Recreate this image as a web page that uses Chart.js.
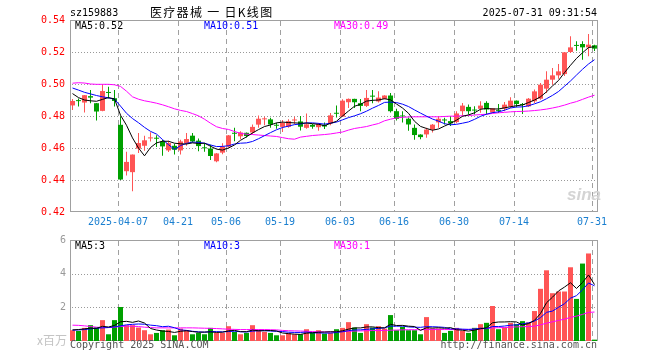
<!DOCTYPE html>
<html><head><meta charset="utf-8">
<script src="https://cdn.jsdelivr.net/npm/chart.js@4/dist/chart.umd.min.js"></script>
<style>
html,body{margin:0;padding:0;background:#fff;width:660px;height:360px;overflow:hidden;}
#wrap{position:relative;width:660px;height:360px;font-family:"DejaVu Sans Mono","Liberation Mono",monospace;font-size:10px;}
.t{position:absolute;white-space:pre;line-height:12px;}
#c1{position:absolute;left:0;top:0;}
#c2{position:absolute;left:0;top:230px;}
</style></head>
<body><div id="wrap">
<canvas id="c1" width="660" height="236"></canvas>
<canvas id="c2" width="660" height="130"></canvas>
<div class="t" style="left:70px;top:7px;color:#000;">sz159883</div>
<div class="t" style="left:150px;top:5px;font-family:'Noto Sans CJK SC';font-size:12px;line-height:14px;letter-spacing:1.3px;color:#000;">医疗器械 一 日K线图</div>
<div class="t" style="right:63px;top:7px;color:#000;">2025-07-31 09:31:54</div>
<div class="t" style="left:75px;top:20px;color:#000;">MA5:0.52</div>
<div class="t" style="left:204px;top:20px;color:#0000ff;">MA10:0.51</div>
<div class="t" style="left:334px;top:20px;color:#ff00ff;">MA30:0.49</div>
<div class="t" style="left:75px;top:240px;color:#000;">MA5:3</div>
<div class="t" style="left:204px;top:240px;color:#0000ff;">MA10:3</div>
<div class="t" style="left:334px;top:240px;color:#ff00ff;">MA30:1</div>
<div class="t" style="left:37px;top:333px;font-family:'Noto Sans CJK SC';font-size:12px;line-height:14px;color:#c4c4c4;">x百万</div>
<div class="t" style="left:70px;top:339px;color:#555;">Copyright 2025 SINA.COM</div>
<div class="t" style="right:63px;top:339px;color:#555;">http://finance.sina.com.cn</div>
<div class="t" style="left:567px;top:186px;font-family:'Liberation Sans';font-style:italic;font-weight:bold;font-size:17px;line-height:18px;color:#d4d4d4;">sina</div>
</div>
<script>
// ---------- data ----------
const dates = [
'2025-03-25','2025-03-26','2025-03-27','2025-03-28','2025-03-31','2025-04-01','2025-04-02','2025-04-03','2025-04-07','2025-04-08',
'2025-04-09','2025-04-10','2025-04-11','2025-04-14','2025-04-15','2025-04-16','2025-04-17','2025-04-18','2025-04-21','2025-04-22',
'2025-04-23','2025-04-24','2025-04-25','2025-04-28','2025-04-29','2025-04-30','2025-05-06','2025-05-07','2025-05-08','2025-05-09',
'2025-05-12','2025-05-13','2025-05-14','2025-05-15','2025-05-16','2025-05-19','2025-05-20','2025-05-21','2025-05-22','2025-05-23',
'2025-05-26','2025-05-27','2025-05-28','2025-05-29','2025-05-30','2025-06-03','2025-06-04','2025-06-05','2025-06-06','2025-06-09',
'2025-06-10','2025-06-11','2025-06-12','2025-06-13','2025-06-16','2025-06-17','2025-06-18','2025-06-19','2025-06-20','2025-06-23',
'2025-06-24','2025-06-25','2025-06-26','2025-06-27','2025-06-30','2025-07-01','2025-07-02','2025-07-03','2025-07-04','2025-07-07',
'2025-07-08','2025-07-09','2025-07-10','2025-07-11','2025-07-14','2025-07-15','2025-07-16','2025-07-17','2025-07-18','2025-07-21',
'2025-07-22','2025-07-23','2025-07-24','2025-07-25','2025-07-28','2025-07-29','2025-07-30','2025-07-31'];

const tickDates = ['2025-04-07','2025-04-21','2025-05-06','2025-05-19','2025-06-03','2025-06-16','2025-06-30','2025-07-14','2025-07-31'];
const tickText  = ['2025-04-07','04-21','05-06','05-19','06-03','06-16','06-30','07-14','07-31'];
const priceTicks = [0.42,0.44,0.46,0.48,0.50,0.52,0.54];
const volTicks = [0,2,4,6];

const openP = [
0.4866,0.4897,0.4884,0.4924,0.4880,0.4832,0.4948,0.4911,0.4745,0.4455,
0.4449,0.4596,0.4614,0.4660,0.4662,0.4641,0.4585,0.4614,0.4585,0.4631,
0.4677,0.4646,0.4602,0.4597,0.4517,0.4571,0.4608,0.4693,0.4673,0.4695,
0.4697,0.4746,0.4779,0.4779,0.4743,0.4732,0.4732,0.4772,0.4766,0.4726,
0.4745,0.4730,0.4744,0.4754,0.4818,0.4796,0.4886,0.4907,0.4880,0.4863,
0.4925,0.4891,0.4907,0.4928,0.4830,0.4801,0.4783,0.4726,0.4684,0.4685,
0.4715,0.4760,0.4776,0.4768,0.4762,0.4830,0.4857,0.4838,0.4845,0.4882,
0.4822,0.4836,0.4846,0.4860,0.4896,0.4873,0.4860,0.4892,0.4908,0.4971,
0.5027,0.5054,0.5062,0.5200,0.5242,0.5250,0.5229,0.5242];
const highP = [
0.4906,0.4910,0.4932,0.4963,0.4882,0.4995,0.4983,0.4963,0.4797,0.4577,
0.4560,0.4693,0.4677,0.4698,0.4680,0.4650,0.4646,0.4627,0.4652,0.4693,
0.4693,0.4660,0.4632,0.4620,0.4569,0.4630,0.4682,0.4726,0.4705,0.4697,
0.4747,0.4803,0.4795,0.4789,0.4758,0.4775,0.4780,0.4795,0.4800,0.4815,
0.4750,0.4757,0.4760,0.4818,0.4866,0.4905,0.4910,0.4908,0.4907,0.4962,
0.4963,0.4955,0.4930,0.4944,0.4845,0.4830,0.4790,0.4747,0.4686,0.4726,
0.4750,0.4799,0.4789,0.4799,0.4830,0.4882,0.4872,0.4861,0.4892,0.4892,
0.4850,0.4875,0.4888,0.4917,0.4897,0.4881,0.4912,0.4965,0.5006,0.5079,
0.5100,0.5125,0.5200,0.5298,0.5267,0.5267,0.5313,0.5246];
const lowP = [
0.4838,0.4860,0.4822,0.4880,0.4772,0.4830,0.4910,0.4860,0.4400,0.4428,
0.4330,0.4569,0.4583,0.4641,0.4606,0.4552,0.4575,0.4559,0.4559,0.4614,
0.4635,0.4579,0.4577,0.4525,0.4511,0.4561,0.4603,0.4642,0.4654,0.4665,
0.4686,0.4727,0.4742,0.4727,0.4721,0.4700,0.4727,0.4748,0.4710,0.4720,
0.4720,0.4708,0.4718,0.4742,0.4790,0.4795,0.4850,0.4850,0.4830,0.4857,
0.4880,0.4885,0.4905,0.4822,0.4772,0.4760,0.4708,0.4652,0.4654,0.4664,
0.4697,0.4726,0.4747,0.4737,0.4755,0.4803,0.4810,0.4810,0.4820,0.4810,
0.4818,0.4819,0.4829,0.4850,0.4854,0.4813,0.4856,0.4881,0.4902,0.4944,
0.4996,0.5033,0.5050,0.5194,0.5208,0.5152,0.5173,0.5206];
const closeP = [
0.4894,0.4893,0.4930,0.4915,0.4828,0.4956,0.4944,0.4894,0.4403,0.4513,
0.4559,0.4631,0.4648,0.4664,0.4658,0.4610,0.4631,0.4589,0.4641,0.4656,
0.4641,0.4612,0.4598,0.4550,0.4566,0.4609,0.4679,0.4689,0.4697,0.4675,
0.4732,0.4783,0.4783,0.4747,0.4739,0.4757,0.4768,0.4776,0.4733,0.4748,
0.4733,0.4750,0.4734,0.4804,0.4814,0.4896,0.4907,0.4886,0.4863,0.4913,
0.4921,0.4915,0.4928,0.4830,0.4782,0.4797,0.4747,0.4681,0.4668,0.4715,
0.4746,0.4783,0.4772,0.4754,0.4816,0.4865,0.4830,0.4834,0.4865,0.4841,
0.4848,0.4832,0.4871,0.4896,0.4875,0.4869,0.4908,0.4954,0.4996,0.5027,
0.5054,0.5079,0.5198,0.5229,0.5238,0.5229,0.5246,0.5221];

const ma5 = [
0.4940,0.4915,0.4900,0.4895,0.4892,0.4904,0.4915,0.4907,0.4805,0.4742,
0.4663,0.4600,0.4551,0.4603,0.4632,0.4642,0.4642,0.4630,0.4626,0.4625,
0.4632,0.4628,0.4630,0.4611,0.4593,0.4587,0.4600,0.4619,0.4648,0.4670,
0.4694,0.4715,0.4734,0.4744,0.4757,0.4762,0.4759,0.4757,0.4755,0.4756,
0.4752,0.4748,0.4740,0.4754,0.4767,0.4800,0.4831,0.4861,0.4873,0.4893,
0.4898,0.4900,0.4908,0.4901,0.4875,0.4850,0.4817,0.4767,0.4735,0.4722,
0.4711,0.4719,0.4737,0.4754,0.4774,0.4798,0.4807,0.4820,0.4842,0.4847,
0.4844,0.4844,0.4851,0.4858,0.4864,0.4869,0.4884,0.4900,0.4920,0.4951,
0.4988,0.5022,0.5071,0.5117,0.5160,0.5195,0.5228,0.5233];
const ma10 = [
0.4975,0.4962,0.4948,0.4938,0.4928,0.4920,0.4913,0.4905,0.4862,0.4817,
0.4784,0.4758,0.4729,0.4704,0.4687,0.4653,0.4621,0.4591,0.4615,0.4629,
0.4637,0.4635,0.4630,0.4619,0.4609,0.4610,0.4614,0.4625,0.4630,0.4632,
0.4641,0.4658,0.4677,0.4696,0.4714,0.4728,0.4737,0.4746,0.4750,0.4757,
0.4757,0.4754,0.4749,0.4755,0.4762,0.4776,0.4790,0.4801,0.4814,0.4830,
0.4849,0.4866,0.4885,0.4887,0.4884,0.4874,0.4859,0.4838,0.4818,0.4799,
0.4781,0.4768,0.4752,0.4745,0.4748,0.4755,0.4763,0.4779,0.4798,0.4811,
0.4821,0.4826,0.4836,0.4850,0.4856,0.4857,0.4864,0.4876,0.4889,0.4908,
0.4929,0.4953,0.4986,0.5019,0.5056,0.5092,0.5125,0.5152];
const ma30 = [
0.5005,0.5008,0.5006,0.5000,0.4998,0.4998,0.4998,0.4995,0.4985,0.4955,
0.4920,0.4905,0.4895,0.4888,0.4880,0.4870,0.4858,0.4845,0.4835,0.4828,
0.4815,0.4801,0.4780,0.4755,0.4733,0.4722,0.4716,0.4703,0.4692,0.4686,
0.4684,0.4681,0.4678,0.4675,0.4672,0.4665,0.4658,0.4655,0.4668,0.4673,
0.4678,0.4681,0.4684,0.4688,0.4694,0.4700,0.4712,0.4722,0.4728,0.4734,
0.4744,0.4753,0.4770,0.4780,0.4788,0.4792,0.4794,0.4795,0.4795,0.4795,
0.4795,0.4795,0.4797,0.4799,0.4799,0.4802,0.4803,0.4806,0.4809,0.4811,
0.4816,0.4820,0.4823,0.4826,0.4828,0.4829,0.4831,0.4834,0.4838,0.4843,
0.4850,0.4858,0.4868,0.4880,0.4890,0.4904,0.4918,0.4930];

const volume = [
0.64,0.60,0.78,0.94,0.80,1.24,0.40,1.24,2.02,0.94,
0.94,0.80,0.64,0.40,0.48,0.64,0.68,0.34,0.74,0.64,
0.40,0.48,0.40,0.78,0.48,0.48,0.88,0.54,0.40,0.48,
0.94,0.68,0.54,0.48,0.34,0.34,0.48,0.40,0.40,0.70,
0.48,0.64,0.44,0.48,0.70,0.78,1.12,0.80,0.48,1.00,
0.80,0.88,0.74,1.54,0.64,0.84,0.64,0.64,0.40,1.42,
0.74,0.74,0.48,0.60,0.78,0.60,0.48,0.78,1.00,1.08,
2.08,0.70,0.80,1.08,1.00,1.18,1.10,1.78,3.10,4.20,
2.84,2.94,2.94,4.38,2.50,4.60,5.20,0.08];
const volMa5 = [
0.66,0.68,0.72,0.76,0.752,0.872,0.832,0.924,1.14,1.168,
1.108,1.188,1.068,0.744,0.652,0.592,0.568,0.508,0.576,0.608,
0.56,0.52,0.532,0.54,0.508,0.524,0.604,0.632,0.556,0.556,
0.648,0.608,0.608,0.624,0.596,0.476,0.436,0.408,0.392,0.464,
0.492,0.524,0.532,0.548,0.548,0.608,0.704,0.776,0.776,0.836,
0.84,0.792,0.78,0.992,0.92,0.928,0.88,0.86,0.632,0.788,
0.768,0.788,0.756,0.796,0.668,0.64,0.588,0.648,0.728,0.788,
1.084,1.128,1.132,1.148,1.132,0.952,1.032,1.228,1.632,2.272,
2.604,2.972,3.204,3.46,3.12,3.472,3.924,3.352];
const volMa10 = [
0.64,0.66,0.68,0.72,0.76,0.78,0.80,0.84,0.90,0.96,
0.99,1.01,0.996,0.942,0.91,0.85,0.878,0.788,0.66,0.63,
0.576,0.544,0.52,0.558,0.558,0.542,0.562,0.582,0.548,0.532,
0.586,0.606,0.62,0.59,0.576,0.562,0.522,0.508,0.508,0.53,
0.484,0.48,0.47,0.47,0.506,0.55,0.614,0.654,0.662,0.692,
0.724,0.748,0.778,0.884,0.878,0.884,0.836,0.82,0.812,0.854,
0.848,0.834,0.808,0.714,0.728,0.704,0.688,0.702,0.762,0.728,
0.862,0.858,0.89,0.938,0.96,1.018,1.08,1.18,1.39,1.702,
1.778,2.002,2.216,2.546,2.696,3.038,3.448,3.278];
const volMa30 = [
0.94,0.93,0.90,0.86,0.82,0.80,0.80,0.82,0.86,0.88,
0.88,0.86,0.82,0.80,0.78,0.78,0.78,0.78,0.78,0.78,
0.78,0.77,0.76,0.75,0.74,0.72,0.70,0.69,0.68,0.68,
0.68,0.68,0.68,0.67,0.66,0.63,0.61,0.60,0.59,0.58,
0.56,0.55,0.54,0.54,0.55,0.57,0.58,0.59,0.60,0.61,
0.62,0.62,0.63,0.64,0.65,0.66,0.67,0.67,0.67,0.68,
0.68,0.68,0.68,0.68,0.68,0.68,0.69,0.70,0.72,0.74,
0.78,0.79,0.80,0.82,0.84,0.85,0.86,0.88,0.96,1.06,
1.14,1.22,1.30,1.40,1.48,1.58,1.70,1.72];

// ---------- drawing ----------
const MONO = '"DejaVu Sans Mono","Liberation Mono",monospace';
const SLOT_SHIFT = 5/12;             // candle centre sits 2.5px into its 6px slot
const xMin = -SLOT_SHIFT, xMax = dates.length - SLOT_SHIFT;
const tickIdx = tickDates.map(d => dates.indexOf(d));
const UP = '#ff5555', DOWN = '#00a000';
const candleColors = closeP.map((c, i) => c >= openP[i] ? UP : DOWN);
const pts = arr => arr.map((v, i) => ({x: i, y: v}));

// frame + dotted/dashed grid, positioned from the chart's own scales and ticks
const frameGrid = {
  id: 'frameGrid',
  beforeDatasetsDraw(chart) {
    const a = chart.chartArea, ctx = chart.ctx;
    const xs = chart.scales.x, ys = chart.scales.y;
    const L = Math.round(a.left), T = Math.round(a.top), R = Math.round(a.right), B = Math.round(a.bottom);
    ctx.save();
    ctx.fillStyle = '#999999';
    ys.ticks.forEach((t, i) => {
      if (i === 0 || i === ys.ticks.length - 1) return;
      const y = Math.round(ys.getPixelForValue(t.value));
      for (let x = L + 2; x < R - 1; x += 3) ctx.fillRect(x, y, 1, 1);
    });
    ctx.fillStyle = '#a0a0a0';
    xs.ticks.forEach(t => {
      const x = Math.round(xs.getPixelForValue(t.value));
      for (let y = T + 1; y < B - 1; y += 9) ctx.fillRect(x, y, 1, Math.min(5, B - 1 - y));
    });
    ctx.strokeStyle = '#a0a0a0';
    ctx.lineWidth = 1;
    ctx.strokeRect(L + 0.5, T + 0.5, R - L - 1, B - T - 1);
    ctx.restore();
  }
};

function xAxis(showLabels) {
  return {
    type: 'linear', min: xMin, max: xMax, position: 'bottom', offset: false,
    afterBuildTicks: ax => { ax.ticks = tickIdx.map(i => ({value: i - SLOT_SHIFT})); },
    afterFit: ax => { ax.height = showLabels ? 24 : 0; },
    grid: {display: false, drawTicks: false},
    border: {display: false},
    ticks: {display: showLabels, autoSkip: false, maxRotation: 0, minRotation: 0, padding: 4,
            color: '#1a7fd0', font: {family: MONO, size: 10},
            callback: (v, i) => tickText[i]}
  };
}
function yAxis(min, max, tickList, color, pad, fmt) {
  return {
    type: 'linear', min: min, max: max, position: 'left',
    afterBuildTicks: ax => { ax.ticks = tickList.map(v => ({value: v})); },
    afterFit: ax => { ax.width = 70; },
    grid: {display: false, drawTicks: false},
    border: {display: false},
    ticks: {color: color, padding: pad, font: {family: MONO, size: 10}, callback: fmt}
  };
}
function maLine(data, color) {
  return {type: 'line', data: pts(data), borderColor: color, borderWidth: 1, pointRadius: 0,
          tension: 0, fill: false, order: 0};
}
const common = {responsive: false, animation: false, events: [],
  plugins: {legend: {display: false}, tooltip: {enabled: false}}};

new Chart(document.getElementById('c1'), {
  type: 'bar',
  data: {datasets: [
    maLine(ma5, '#000000'),
    maLine(ma10, '#0000ff'),
    maLine(ma30, '#ff00ff'),
    {type: 'bar', data: openP.map((o, i) => ({x: i, y: [o, closeP[i]]})), backgroundColor: candleColors,
     barThickness: 5, grouped: false, minBarLength: 1, inflateAmount: 0, order: 1},
    {type: 'bar', data: lowP.map((l, i) => ({x: i, y: [l, highP[i]]})), backgroundColor: candleColors,
     barThickness: 1, grouped: false, inflateAmount: 0, order: 2}
  ]},
  options: Object.assign({}, common, {
    layout: {padding: {top: 20, right: 62, bottom: 0, left: 0}},
    scales: {
      x: xAxis(true),
      y: yAxis(0.42, 0.54, priceTicks, '#ff0000', 5, v => v.toFixed(2))
    }
  }),
  plugins: [frameGrid]
});

new Chart(document.getElementById('c2'), {
  type: 'bar',
  data: {datasets: [
    maLine(volMa5, '#000000'),
    maLine(volMa10, '#0000ff'),
    maLine(volMa30, '#ff00ff'),
    {type: 'bar', data: volume.map((v, i) => ({x: i, y: v})), backgroundColor: candleColors,
     barThickness: 5, grouped: false, inflateAmount: 0, order: 1}
  ]},
  options: Object.assign({}, common, {
    layout: {padding: {top: 10, right: 62, bottom: 19, left: 0}},
    scales: {
      x: xAxis(false),
      y: yAxis(0, 6, volTicks, '#999999', 4, v => v === 0 ? '' : String(v))
    }
  }),
  plugins: [frameGrid]
});
</script>
</body></html>
